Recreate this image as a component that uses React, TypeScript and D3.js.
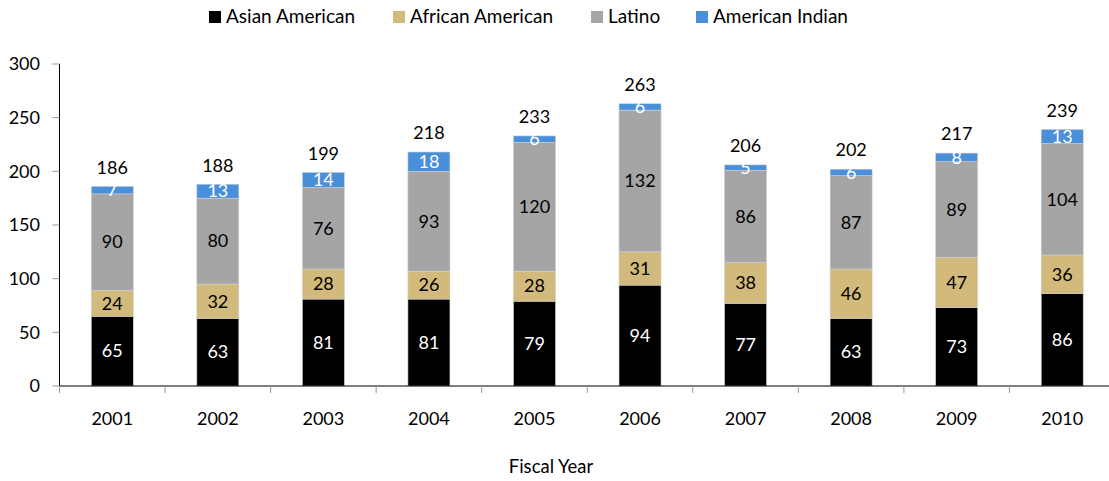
import * as d3 from 'd3';
import { useEffect, useRef } from 'react';

const years = ['2001', '2002', '2003', '2004', '2005', '2006', '2007', '2008', '2009', '2010'];
const asianAmerican = [65, 63, 81, 81, 79, 94, 77, 63, 73, 86];
const africanAmerican = [24, 32, 28, 26, 28, 31, 38, 46, 47, 36];
const latino = [90, 80, 76, 93, 120, 132, 86, 87, 89, 104];
const americanIndian = [7, 13, 14, 18, 6, 6, 5, 6, 8, 13];
const yTicks = [0, 50, 100, 150, 200, 250, 300];

const seriesNames = ['Asian American', 'African American', 'Latino', 'American Indian'];
const seriesColors = ['#000000', '#D2B97C', '#A5A5A5', '#4A8FDA'];
const labelColors = ['#ffffff', '#000000', '#000000', '#ffffff'];
const legendX = [209, 393, 591, 696];

const FONT = 'Lato, "Open Sans", sans-serif';

const App = () => {
  const ref = useRef<null | SVGSVGElement>(null);

  useEffect(() => {
    const width = 1109;
    const height = 481;
    const margin = { left: 59.5, right: -6, top: 64, bottom: 95 };

    const svg = d3.select(ref.current);
    svg.selectAll('*').remove();
    svg.attr('width', width).attr('height', height).style('font-family', FONT);

    const data = years.map((y, i) => ({
      year: y,
      s0: asianAmerican[i],
      s1: africanAmerican[i],
      s2: latino[i],
      s3: americanIndian[i],
    }));
    const keys = ['s0', 's1', 's2', 's3'];
    const stack = d3.stack<any>().keys(keys)(data);

    const x = d3
      .scaleBand()
      .domain(years)
      .range([margin.left, width - margin.right])
      .paddingInner(0)
      .paddingOuter(0);

    const y = d3
      .scaleLinear()
      .domain([0, 300])
      .range([height - margin.bottom, margin.top]);

    const barW = 42;
    const bx = (yr: string) => (x(yr) as number) + x.bandwidth() / 2 - barW / 2;

    // legend
    const legend = svg.append('g');
    seriesNames.forEach((name, i) => {
      legend
        .append('rect')
        .attr('x', legendX[i])
        .attr('y', 11)
        .attr('width', 12)
        .attr('height', 12)
        .attr('fill', seriesColors[i]);
      legend
        .append('text')
        .attr('x', legendX[i] + 17)
        .attr('y', 16)
        .attr('dy', '0.35em')
        .attr('font-size', 19)
        .attr('fill', '#000')
        .text(name);
    });

    // y axis
    const yAxis = svg.append('g');
    yAxis
      .append('line')
      .attr('x1', margin.left)
      .attr('x2', margin.left)
      .attr('y1', y(300))
      .attr('y2', y(0))
      .attr('stroke', '#000')
      .attr('stroke-width', 1);
    yAxis
      .selectAll('line.tick')
      .data(yTicks)
      .join('line')
      .attr('class', 'tick')
      .attr('x1', margin.left - 7)
      .attr('x2', margin.left)
      .attr('y1', (d) => y(d))
      .attr('y2', (d) => y(d))
      .attr('stroke', '#999');
    yAxis
      .selectAll('text')
      .data(yTicks)
      .join('text')
      .attr('x', 40)
      .attr('y', (d) => y(d))
      .attr('dy', '0.35em')
      .attr('text-anchor', 'end')
      .attr('font-size', 18)
      .text((d) => d);

    // bars
    stack.forEach((layer, si) => {
      const g = svg.append('g');
      g.selectAll('rect')
        .data(layer)
        .join('rect')
        .attr('x', (d: any) => bx(d.data.year))
        .attr('width', barW)
        .attr('y', (d: any) => y(d[1]))
        .attr('height', (d: any) => y(d[0]) - y(d[1]))
        .attr('fill', seriesColors[si])
        .attr('stroke', '#d0d0d0')
        .attr('stroke-width', 0.6);
      g.selectAll('text')
        .data(layer)
        .join('text')
        .attr('x', (d: any) => bx(d.data.year) + barW / 2)
        .attr('y', (d: any) => (y(d[0]) + y(d[1])) / 2)
        .attr('dy', '0.35em')
        .attr('text-anchor', 'middle')
        .attr('font-size', 18)
        .attr('fill', labelColors[si])
        .text((d: any) => d[1] - d[0]);
    });

    // totals
    svg
      .append('g')
      .selectAll('text')
      .data(stack[3])
      .join('text')
      .attr('x', (d: any) => bx(d.data.year) + barW / 2)
      .attr('y', (d: any) => y(d[1]) - 19)
      .attr('dy', '0.35em')
      .attr('text-anchor', 'middle')
      .attr('font-size', 18)
      .text((d: any) => d[1]);

    // x axis
    const xAxis = svg.append('g');
    xAxis
      .append('line')
      .attr('x1', margin.left)
      .attr('x2', width)
      .attr('y1', y(0))
      .attr('y2', y(0))
      .attr('stroke', '#000');
    xAxis
      .selectAll('line.tick')
      .data(years)
      .join('line')
      .attr('class', 'tick')
      .attr('x1', (d) => x(d) as number)
      .attr('x2', (d) => x(d) as number)
      .attr('y1', y(0))
      .attr('y2', y(0) + 7)
      .attr('stroke', '#999');
    xAxis
      .selectAll('text')
      .data(years)
      .join('text')
      .attr('x', (d) => (x(d) as number) + x.bandwidth() / 2)
      .attr('y', 419)
      .attr('dy', '0.35em')
      .attr('text-anchor', 'middle')
      .attr('font-size', 18)
      .text((d) => d);

    svg
      .append('text')
      .attr('x', 551)
      .attr('y', 467)
      .attr('dy', '0.35em')
      .attr('text-anchor', 'middle')
      .attr('font-size', 18.5)
      .text('Fiscal Year');
  }, []);

  return (
    <svg
      ref={ref}
      width={1109}
      height={481}
      style={{ position: 'absolute', left: 0, top: 0 }}
    />
  );
};

export default App;
